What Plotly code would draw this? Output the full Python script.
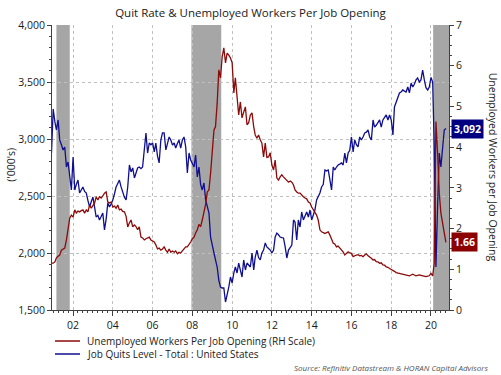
import pandas as pd
import plotly.graph_objects as go

# ---------------- data (monthly, Dec 2000 - Oct 2020) ----------------
start_month = "2000-12-01"

quits_2000 = [2877]
quits_2001 = [3263, 3150, 3079, 3167, 2991, 2950, 2904, 2930, 2754, 2798, 2650, 2553]
quits_2002 = [2842, 2553, 2600, 2640, 2526, 2560, 2579, 2540, 2526, 2460, 2404, 2450]
quits_2003 = [2491, 2400, 2316, 2330, 2290, 2320, 2351, 2202, 2300, 2439, 2404, 2430]
quits_2004 = [2465, 2520, 2579, 2610, 2640, 2580, 2526, 2490, 2465, 2579, 2772, 2711]
quits_2005 = [2746, 2658, 2700, 2746, 2754, 2740, 2754, 2904, 3053, 2877, 2965, 2950]
quits_2006 = [2965, 2886, 2965, 2850, 2790, 2991, 3053, 3053, 2904, 2960, 3018, 2991]
quits_2007 = [2947, 2965, 2921, 2960, 2991, 2921, 2991, 3018, 2930, 2702, 2877, 2816]
quits_2008 = [2790, 2754, 2860, 2667, 2754, 2600, 2553, 2614, 2465, 2400, 2351, 2140]
quits_2009 = [2053, 2000, 1940, 1877, 1760, 1702, 1693, 1693, 1570, 1632, 1702, 1789]
quits_2010 = [1737, 1825, 1877, 1825, 1912, 1850, 1789, 1939, 1851, 1912, 1890, 1877]
quits_2011 = [2000, 1851, 1965, 2026, 1960, 1939, 2000, 2026, 2088, 2053, 2040, 2026]
quits_2012 = [2000, 2026, 2140, 2175, 2160, 2140, 2135, 2132, 2053, 1956, 2026, 2053]
quits_2013 = [2070, 2290, 2272, 2114, 2290, 2228, 2360, 2290, 2330, 2360, 2316, 2377]
quits_2014 = [2290, 2340, 2377, 2465, 2491, 2526, 2579, 2600, 2728, 2720, 2728, 2640]
quits_2015 = [2553, 2754, 2728, 2754, 2772, 2780, 2790, 2772, 2877, 2790, 2877, 2900]
quits_2016 = [3018, 2886, 2991, 2950, 2930, 3018, 2991, 3018, 3053, 3060, 3079, 3018]
quits_2017 = [2991, 3167, 3105, 3120, 3140, 3167, 3105, 3167, 3190, 3211, 3167, 3211]
quits_2018 = [3167, 3035, 3281, 3330, 3368, 3404, 3412, 3430, 3420, 3412, 3456, 3404]
quits_2019 = [3491, 3456, 3480, 3518, 3535, 3500, 3518, 3605, 3518, 3450, 3430, 3456]
quits_2020 = [3540, 3500, 2930, 1877, 2404, 2877, 2754, 2930, 3079, 3092]

ratio_2000 = [1.15]
ratio_2001 = [1.15, 1.18, 1.28, 1.32, 1.35, 1.47, 1.50, 1.52, 1.72, 2.04, 2.26, 2.33]
ratio_2002 = [2.28, 2.46, 2.38, 2.43, 2.41, 2.44, 2.46, 2.38, 2.46, 2.41, 2.58, 2.50]
ratio_2003 = [2.58, 2.63, 2.78, 2.70, 2.78, 2.75, 2.80, 2.87, 2.90, 2.65, 2.63, 2.65]
ratio_2004 = [2.53, 2.55, 2.50, 2.58, 2.46, 2.48, 2.42, 2.41, 2.30, 2.04, 2.14, 2.21]
ratio_2005 = [2.04, 2.09, 2.05, 1.97, 2.04, 1.79, 1.77, 1.72, 1.75, 1.77, 1.79, 1.72]
ratio_2006 = [1.70, 1.67, 1.60, 1.50, 1.52, 1.47, 1.50, 1.55, 1.47, 1.42, 1.50, 1.42]
ratio_2007 = [1.45, 1.42, 1.45, 1.38, 1.42, 1.40, 1.45, 1.50, 1.55, 1.55, 1.60, 1.67]
ratio_2008 = [1.75, 1.79, 1.89, 1.97, 2.10, 2.05, 2.21, 2.38, 2.60, 2.90, 2.95, 3.36]
ratio_2009 = [3.86, 4.42, 4.50, 5.08, 5.90, 5.70, 6.21, 6.44, 6.07, 6.31, 6.26, 6.19]
ratio_2010 = [6.07, 5.33, 5.70, 5.16, 4.79, 5.11, 4.72, 4.86, 4.99, 4.55, 4.60, 4.79]
ratio_2011 = [4.84, 4.50, 4.30, 4.22, 4.30, 4.18, 4.10, 3.76, 4.10, 3.75, 3.76, 3.86]
ratio_2012 = [3.56, 3.44, 3.68, 3.24, 3.19, 3.27, 3.32, 3.27, 3.22, 3.19, 3.14, 3.17]
ratio_2013 = [3.14, 3.07, 2.95, 2.90, 2.87, 2.87, 2.82, 2.78, 2.75, 2.73, 2.65, 2.63]
ratio_2014 = [2.53, 2.46, 2.40, 2.33, 2.21, 1.97, 1.92, 1.89, 1.88, 1.90, 1.92, 1.84]
ratio_2015 = [1.72, 1.64, 1.62, 1.55, 1.57, 1.52, 1.47, 1.43, 1.35, 1.40, 1.43, 1.40]
ratio_2016 = [1.39, 1.31, 1.34, 1.35, 1.36, 1.33, 1.34, 1.31, 1.35, 1.38, 1.33, 1.31]
ratio_2017 = [1.27, 1.23, 1.24, 1.19, 1.18, 1.15, 1.16, 1.11, 1.10, 1.06, 1.05, 1.02]
ratio_2018 = [1.00, 0.98, 0.95, 0.92, 0.91, 0.90, 0.89, 0.88, 0.87, 0.86, 0.85, 0.84]
ratio_2019 = [0.86, 0.88, 0.86, 0.84, 0.85, 0.86, 0.85, 0.84, 0.83, 0.82, 0.83, 0.84]
ratio_2020 = [0.90, 0.84, 1.15, 4.63, 3.86, 2.87, 2.38, 2.14, 1.89, 1.66]

recessions = [("2001-03-01", "2001-11-01"), ("2007-12-15", "2009-06-15"), ("2020-02-10", "2020-11-27")]

title_text = "Quit Rate & Unemployed Workers Per Job Opening"
ratio_name = "Unemployed Workers Per Job Opening (RH Scale)"
quits_name = "Job Quits Level - Total : United States"
left_title = "('000's)"
right_title = "Unemployed Workers per Job Opening"
source_text = "Source: Refinitiv Datastream & HORAN Capital Advisors"

quits = (quits_2000 + quits_2001 + quits_2002 + quits_2003 + quits_2004 + quits_2005 +
         quits_2006 + quits_2007 + quits_2008 + quits_2009 + quits_2010 + quits_2011 +
         quits_2012 + quits_2013 + quits_2014 + quits_2015 + quits_2016 + quits_2017 +
         quits_2018 + quits_2019 + quits_2020)
ratio = (ratio_2000 + ratio_2001 + ratio_2002 + ratio_2003 + ratio_2004 + ratio_2005 +
         ratio_2006 + ratio_2007 + ratio_2008 + ratio_2009 + ratio_2010 + ratio_2011 +
         ratio_2012 + ratio_2013 + ratio_2014 + ratio_2015 + ratio_2016 + ratio_2017 +
         ratio_2018 + ratio_2019 + ratio_2020)
dates = pd.date_range(start_month, periods=len(quits), freq="MS")

BLUE = "#0f0f8f"
RED = "#8b0a0a"
FONT = "Open Sans"
TXT = "#1a1a1a"
GRID = "#c0c0c0"
AXIS = "#404040"

fig = go.Figure()
fig.add_trace(go.Scatter(x=dates, y=quits, name=quits_name, mode="lines",
                         line=dict(color=BLUE, width=1.3), showlegend=False))
fig.add_trace(go.Scatter(x=dates, y=ratio, name=ratio_name, mode="lines", yaxis="y2",
                         line=dict(color=RED, width=1.3), showlegend=False))

shapes = []
for a, b in recessions:
    shapes.append(dict(type="rect", xref="x", yref="paper", x0=a, x1=b, y0=0, y1=1,
                       fillcolor="#a6a6a6", line=dict(width=0), layer="between"))

# legend key lines (below the plot, in paper coordinates)
legend_rows = [(ratio_name, RED, -0.1088), (quits_name, BLUE, -0.1544)]
ann = []
for name, col, ly in legend_rows:
    shapes.append(dict(type="line", xref="paper", yref="paper", x0=0.0076, x1=0.0705,
                       y0=ly, y1=ly, line=dict(color=col, width=1.5)))
    ann.append(dict(text=name, xref="paper", yref="paper", x=0.0831, y=ly,
                    xanchor="left", yanchor="middle", showarrow=False,
                    font=dict(size=10, color=TXT)))

fig.update_layout(
    width=501, height=375,
    margin=dict(l=52, r=52, t=25, b=65),
    paper_bgcolor="white", plot_bgcolor="white",
    font=dict(family=FONT, size=10, color=TXT),
    title=dict(text=title_text, x=0.5, xanchor="center", y=1 - 13 / 375, yanchor="middle",
               font=dict(family=FONT, size=11.5, color=TXT)),
    shapes=shapes,
    showlegend=False,
    xaxis=dict(type="date", range=["2000-12-10", "2020-11-27"],
               tick0="2002-01-01", dtick="M24", tickformat="%y",
               ticks="outside", ticklen=5, tickcolor=AXIS,
               showline=True, linecolor=AXIS, linewidth=1,
               showgrid=True, gridcolor=GRID, griddash="dot", gridwidth=1,
               minor=dict(dtick="M3", ticks="outside", ticklen=2, tickcolor=AXIS, showgrid=False),
               tickfont=dict(size=10.5, color=TXT), zeroline=False),
    yaxis=dict(range=[1500, 4000], dtick=500, tickformat=",",
               ticks="outside", ticklen=4, tickcolor=AXIS,
               showline=True, linecolor=AXIS, linewidth=1,
               showgrid=True, gridcolor=GRID, griddash="dot", gridwidth=1,
               minor=dict(dtick=100, ticks="outside", ticklen=2, tickcolor=AXIS, showgrid=False),
               tickfont=dict(size=10.5, color=TXT), zeroline=False),
    yaxis2=dict(range=[0, 7], dtick=1, overlaying="y", side="right",
                ticks="outside", ticklen=4, tickcolor=AXIS,
                showline=True, linecolor=AXIS, linewidth=1, showgrid=False,
                minor=dict(dtick=0.25, ticks="outside", ticklen=2, tickcolor=AXIS),
                tickfont=dict(size=10.5, color=TXT), zeroline=False),
)

ann.append(dict(text=left_title, xref="paper", yref="paper", x=-0.103, y=0.51,
                textangle=-90, showarrow=False, font=dict(size=10.5, color=TXT),
                xanchor="center", yanchor="middle"))
ann.append(dict(text=right_title, xref="paper", yref="paper", x=1.113, y=0.50,
                textangle=90, showarrow=False, font=dict(size=10.5, color=TXT),
                xanchor="center", yanchor="middle"))
ann.append(dict(text="<i>" + source_text + "</i>", xref="paper", yref="paper", x=1.103, y=-0.2035,
                showarrow=False, font=dict(size=8, color="#555555"),
                xanchor="right", yanchor="middle"))
ann.append(dict(text="<b>{:,}</b>".format(quits[-1]), xref="paper", yref="y", x=1, xshift=2,
                y=quits[-1], showarrow=False, xanchor="left", yanchor="middle",
                bgcolor="#000080", borderpad=2, font=dict(size=10.5, color="white")))
ann.append(dict(text="<b>{:.2f}</b>".format(ratio[-1]), xref="paper", yref="y2", x=1, xshift=2,
                y=ratio[-1], showarrow=False, xanchor="left", yanchor="middle",
                bgcolor="#8b0000", borderpad=2, font=dict(size=10.5, color="white")))
fig.update_layout(annotations=ann)

fig.write_html("out.html", config={"displayModeBar": False},
               post_script="document.body.style.margin='0';document.body.style.overflow='hidden';")
